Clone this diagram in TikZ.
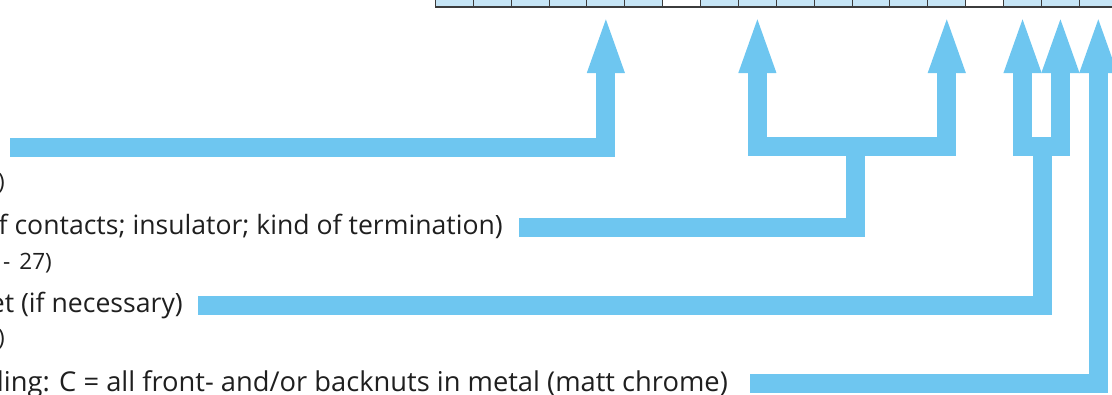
\documentclass[tikz,border=0pt]{standalone}
\usepackage{fontspec}
\setmainfont{Open Sans}
\usetikzlibrary{arrows.meta}
\definecolor{arrowblue}{HTML}{6EC6F0}
\definecolor{cellblue}{HTML}{C6E5F6}
\definecolor{celledge}{HTML}{3C3C3C}
\tikzset{
  cellbox/.style={draw=celledge, line width=1pt, fill=cellblue, minimum width=37.88pt, minimum height=40pt, inner sep=0pt, outer sep=0pt},
  emptybox/.style={cellbox, fill=white},
  fat/.style={draw=arrowblue, line width=19pt, line join=miter, line cap=butt},
  fatarrow/.style={fat, -{Triangle[length=60pt,width=32.5pt]}, shorten >=6pt},
  mainlabel/.style={anchor=base east, inner sep=0pt, font=\fontsize{26.6}{31}\selectfont, text=black!88},
  sublabel/.style={anchor=base east, inner sep=0pt, font=\fontsize{22.5}{26}\selectfont, text=black!88}
}
\begin{document}
\begin{tikzpicture}[x=1pt,y=-1pt]
\useasboundingbox (0,0) rectangle (1112,394);
\clip (0,0) rectangle (1112,394);
% cells
\foreach \i in {0,...,17}{
  \ifnum\i=6
    \node[emptybox] (c\i) at ({435.4+37.88*\i+18.94},-13) {};
  \else\ifnum\i=14
    \node[emptybox] (c\i) at ({435.4+37.88*\i+18.94},-13) {};
  \else
    \node[cellbox] (c\i) at ({435.4+37.88*\i+18.94},-13) {};
  \fi\fi
}
\draw[celledge, line width=1.8pt] (c0.south west) -- (c17.south east);
% labels
\node[sublabel] (t1) at (5,189) {)};
\node[mainlabel] (t2) at (503,234) {f contacts; insulator; kind of termination)};
\node[sublabel] (t2b) at (52,269) {-\hspace{0.4em}27)};
\node[mainlabel] (t3) at (183,312) {et (if necessary)};
\node[sublabel] (t3b) at (5,345) {)};
\node[mainlabel, font=\fontsize{27.3}{31}\selectfont] (t4) at (728,391) {ding: C = all front- and/or backnuts in metal (matt chrome)};
% connector start points
\coordinate (s1) at (10,147.5);
\coordinate (s2) at (519,227.8);
\coordinate (s3) at (198,305.5);
\coordinate (s4) at (750,383.5);
\coordinate (j2) at (855.5,146);
\coordinate (j3) at (1042.5,146);
% arrows
\draw[fatarrow] (s1) -| (c4.south);
\draw[fat] (s2) -| (j2);
\draw[fatarrow] (j2) -| (c8.south);
\draw[fatarrow] (j2) -| (c13.south);
\draw[fat] (s3) -| (j3);
\draw[fatarrow] (j3) -| (c15.south);
\draw[fatarrow] (j3) -| (c16.south);
\draw[fatarrow] (s4) -| (c17.south);
\end{tikzpicture}
\end{document}
